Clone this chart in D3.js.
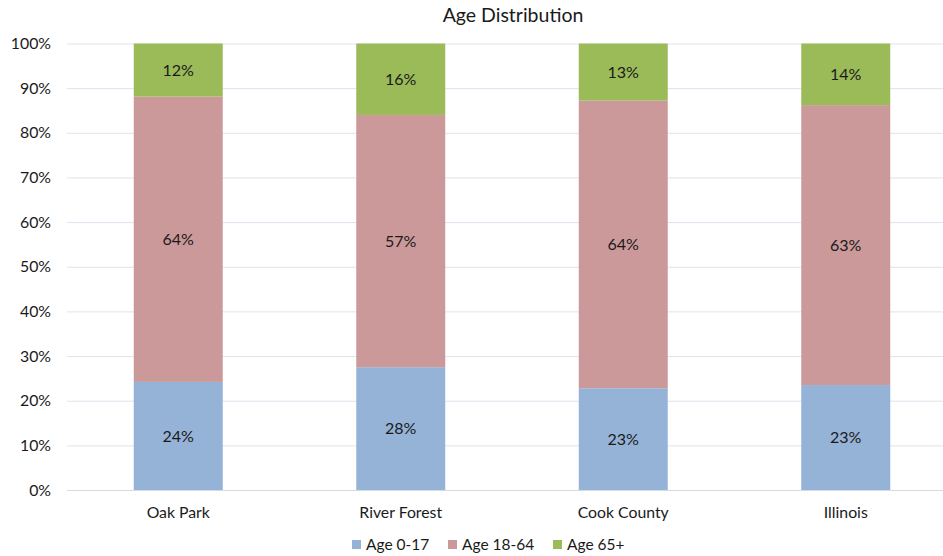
<!DOCTYPE html>
<html><head><meta charset="utf-8">
<script src="https://cdn.jsdelivr.net/npm/d3@7"></script>
<style>body{margin:0;background:#fff}svg{display:block}text{font-family:Lato,"Open Sans",sans-serif;fill:#1a1a1a}</style>
</head><body><svg id="c" width="943" height="556"></svg>
<script>
const categories = ["Oak Park","River Forest","Cook County","Illinois"];
const seriesNames = ["Age 0-17","Age 18-64","Age 65+"];
const age0to17 = [24.2,27.5,22.8,23.5];
const age18to64 = [63.9,56.5,64.4,62.7];
const age65plus = [11.9,16.0,12.8,13.8];
const labels0to17 = ["24%","28%","23%","23%"];
const labels18to64 = ["64%","57%","64%","63%"];
const labels65plus = ["12%","16%","13%","14%"];
const yTicks = [0,10,20,30,40,50,60,70,80,90,100];
const colors = ["#95b3d7","#cc999b","#9bbb59"];

const svg = d3.select("#c");
const x = d3.scaleBand().domain(categories).range([67,957]).paddingInner(0.6).paddingOuter(0.3);
const y = d3.scaleLinear().domain([0,100]).range([490,43.5]);

svg.append("text").attr("x",513).attr("y",22).attr("text-anchor","middle").style("font-size","19.5px").text("Age Distribution");

svg.append("g").selectAll("line").data(yTicks).join("line")
  .attr("x1",67).attr("x2",943).attr("y1",d=>y(d)+0.5).attr("y2",d=>y(d)+0.5)
  .attr("stroke",d=>d===0?"#d5dbe4":"#dde4ee").attr("stroke-width",1);
svg.append("g").selectAll("text").data(yTicks).join("text")
  .attr("x",51).attr("y",d=>y(d)).attr("dy","0.35em").attr("text-anchor","end")
  .style("font-size","15.8px").text(d=>d+"%");

const labs = [labels0to17,labels18to64,labels65plus];
const rows = categories.map((c,i)=>({cat:c,"Age 0-17":age0to17[i],"Age 18-64":age18to64[i],"Age 65+":age65plus[i],idx:i}));
const stack = d3.stack().keys(seriesNames)(rows);
stack.forEach((s,si)=>{
  const g = svg.append("g");
  g.selectAll("rect").data(s).join("rect")
    .attr("x",d=>x(d.data.cat)).attr("width",x.bandwidth())
    .attr("y",d=>y(d[1])).attr("height",d=>y(d[0])-y(d[1])).attr("fill",colors[si]);
  g.selectAll("text").data(s).join("text")
    .attr("x",d=>x(d.data.cat)+x.bandwidth()/2).attr("y",d=>y((d[0]+d[1])/2)).attr("dy","0.35em")
    .attr("text-anchor","middle").style("font-size","16px").text(d=>labs[si][d.data.idx]);
});

svg.append("g").selectAll("text").data(categories).join("text")
  .attr("x",d=>x(d)+x.bandwidth()/2).attr("y",512).attr("dy","0.35em").attr("text-anchor","middle")
  .style("font-size","15.8px").text(d=>d);

const legX = [352,448,553];
const lg = svg.append("g").selectAll("g").data(seriesNames).join("g").attr("transform",(d,i)=>`translate(${legX[i]},545)`);
lg.append("rect").attr("x",0).attr("y",-5).attr("width",9).attr("height",9).attr("fill",(d,i)=>colors[i]);
lg.append("text").attr("x",14).attr("y",0).attr("dy","0.35em").style("font-size","15.5px").text(d=>d);
</script></body></html>
